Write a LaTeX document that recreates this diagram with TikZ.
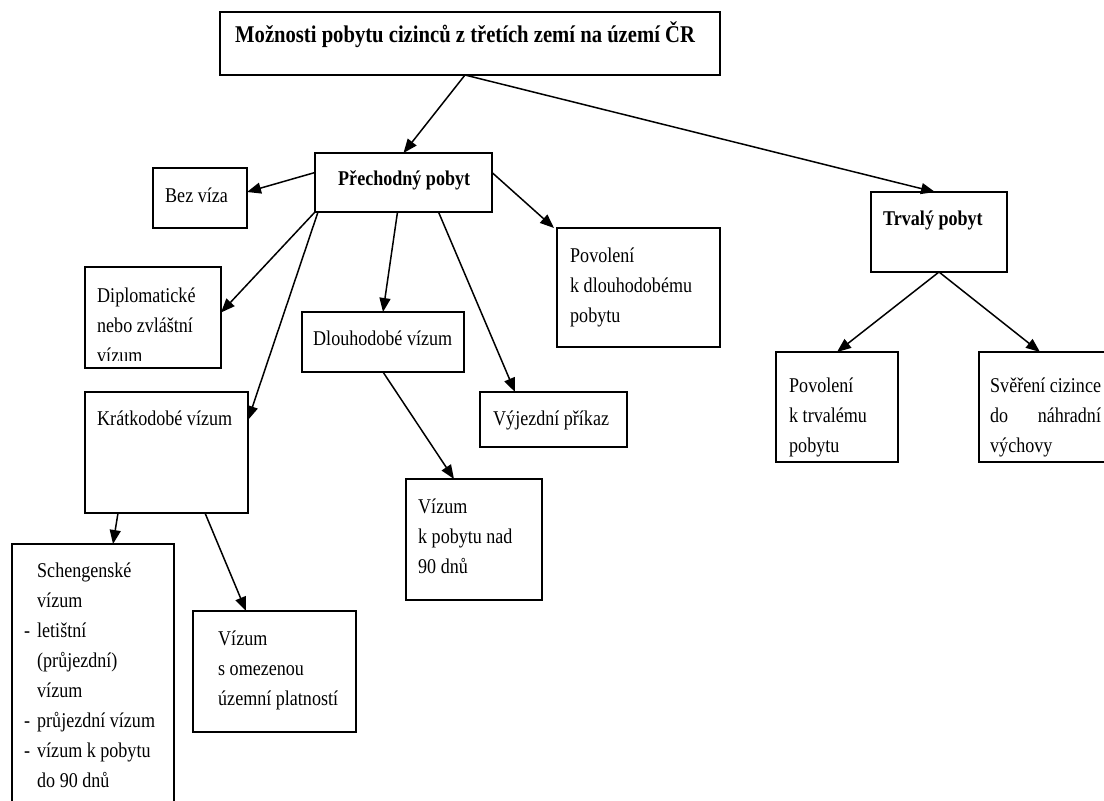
\documentclass[tikz,border=0pt]{standalone}
\usepackage{fontspec}
\setmainfont{Liberation Serif}[FakeStretch=0.86]
\usetikzlibrary{positioning,
				arrows.meta}

\newlength\sverwd
\newcommand{\listdash}{\llap{-\hspace{7pt}}}

\tikzset{
	frame/.style={draw, line width=1.8pt, anchor=north west, inner sep=0pt, outer sep=0pt},
	txt/.style={anchor=north west, inner xsep=12pt, inner ysep=12pt, align=left,
		font=\fontsize{21}{30}\selectfont},
	link/.style={line width=1.5pt, -{Triangle[length=14pt,width=11pt]}}
}

\begin{document}
\begin{tikzpicture}[x=1pt,y=-1pt]
	\useasboundingbox (0,0) rectangle (1104,801);
	\clip (0,0) rectangle (1104,801);

	% boxes
	\node[frame, minimum width=500pt, minimum height=63pt] (title) at (220,12) {};
	\node[frame, minimum width=177pt, minimum height=59pt] (prech) at (315,153) {};
	\node[frame, minimum width=94pt, minimum height=60pt] (bez) at (153,168) {};
	\node[frame, minimum width=136pt, minimum height=101pt] (dipl) at (85,267) {};
	\node[frame, minimum width=163pt, minimum height=121pt] (krat) at (85,392) {};
	\node[frame, minimum width=162pt, minimum height=60pt] (dlouh) at (302,312) {};
	\node[frame, minimum width=147pt, minimum height=55pt] (vyj) at (480,392) {};
	\node[frame, minimum width=136pt, minimum height=121pt] (v90) at (406,479) {};
	\node[frame, minimum width=163pt, minimum height=119pt] (povd) at (557,228) {};
	\node[frame, minimum width=162pt, minimum height=290pt] (schen) at (12,544) {};
	\node[frame, minimum width=163pt, minimum height=121pt] (omez) at (193,611) {};
	\node[frame, minimum width=136pt, minimum height=80pt] (trv) at (871,192) {};
	\node[frame, minimum width=122pt, minimum height=110pt] (povt) at (776,352) {};
	\node[frame, minimum width=160pt, minimum height=110pt] (sver) at (979,352) {};

	% texts
	\node[txt, inner xsep=15pt, inner ysep=9pt, font=\fontsize{24}{30}\selectfont\bfseries] (titlet) at (title.north west)
		{\strut Možnosti pobytu cizinců z třetích zemí na území ČR};
	\node[txt, inner xsep=23pt, inner ysep=11pt, font=\fontsize{21}{30}\selectfont\bfseries] (precht) at (prech.north west)
		{\strut Přechodný pobyt};
	\node[txt, inner ysep=13pt] (bezt) at (bez.north west) {\strut Bez víza};
	\begin{scope}
		\clip (dipl.north west) rectangle ([yshift=8pt]dipl.south east);
		\node[txt, inner ysep=14pt] (diplt) at (dipl.north west) {\strut Diplomatické\\ nebo zvláštní\\ vízum};
	\end{scope}
	\node[txt] (kratt) at (krat.north west) {\strut Krátkodobé vízum};
	\node[txt, inner xsep=11pt] (dlouht) at (dlouh.north west) {\strut Dlouhodobé vízum};
	\node[txt, inner xsep=13pt] (vyjt) at (vyj.north west) {\strut Výjezdní příkaz};
	\node[txt, inner ysep=13pt] (v90t) at (v90.north west) {\strut Vízum\\ k pobytu nad\\ 90 dnů};
	\node[txt, inner xsep=13pt, inner ysep=13pt] (povdt) at (povd.north west) {\strut Povolení\\ k dlouhodobému\\ pobytu};
	\node[txt, inner xsep=25pt] (schent) at (schen.north west)
		{\strut Schengenské\\ vízum\\ \listdash letištní\\ (průjezdní)\\ vízum\\ \listdash průjezdní vízum\\ \listdash vízum k pobytu\\ do 90 dnů};
	\node[txt, inner xsep=25pt, inner ysep=13pt] (omezt) at (omez.north west) {\strut Vízum\\ s omezenou\\ územní platností};
	\node[txt, font=\fontsize{21}{30}\selectfont\bfseries] (trvt) at (trv.north west) {\strut Trvalý pobyt};
	\node[txt, inner xsep=13pt, inner ysep=19pt] (povtt) at (povt.north west) {\strut Povolení\\ k trvalému\\ pobytu};
	\node[txt, inner xsep=11pt, inner ysep=19pt] (svert) at (sver.north west)
		{\strut Svěření cizince\\ \settowidth{\sverwd}{Svěření cizince}\makebox[\sverwd][s]{do náhradní}\\ výchovy};

	% arrows
	\draw[link] ([xshift=-5pt]title.south) -- (prech.north);
	\draw[link] ([xshift=-5pt]title.south) -- ([xshift=-4pt]trv.north);
	\draw[link] ([yshift=10pt]prech.west) -- ([yshift=6pt]bez.east);
	\draw[link] (prech.south west) -- ([yshift=5pt]dipl.east);
	\draw[link] ([xshift=3pt]prech.south west) -- ([yshift=-28pt]krat.north east);
	\draw[link] ([xshift=-6pt]prech.south) -- (dlouh.north);
	\draw[link] ([xshift=35pt]prech.south) -- ([xshift=35pt]vyj.north west);
	\draw[link] ([yshift=10pt]prech.east) -- ([xshift=-3pt]povd.north west);
	\draw[link] (dlouh.south) -- ([xshift=-20pt]v90.north);
	\draw[link] ([xshift=33pt]krat.south west) -- ([xshift=101pt]schen.north west);
	\draw[link] ([xshift=120pt]krat.south west) -- ([xshift=53pt]omez.north west);
	\draw[link] (trv.south) -- (povt.north);
	\draw[link] (trv.south) -- ([xshift=61pt]sver.north west);
\end{tikzpicture}
\end{document}
